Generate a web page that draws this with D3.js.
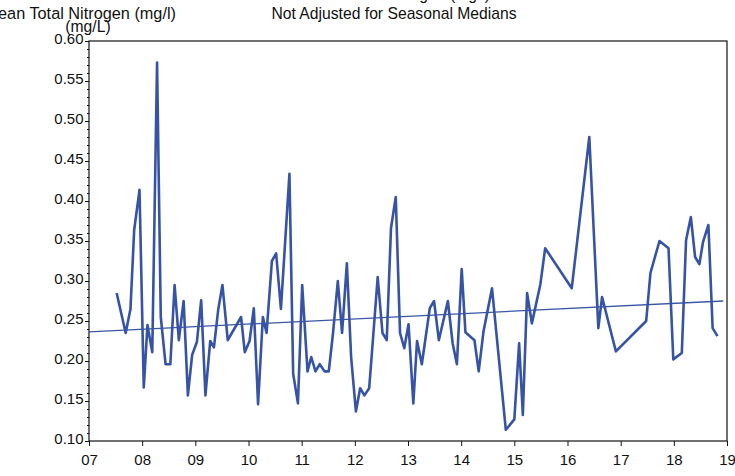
<!DOCTYPE html>
<html><head><meta charset="utf-8">
<script src="https://cdn.jsdelivr.net/npm/d3@7"></script>
<style>body{margin:0;background:#fff}svg text{font-family:"Liberation Sans",Arial,sans-serif}</style>
</head><body><svg id="c" width="735" height="476"></svg>
<script>
const years = [2007.52,2007.69,2007.78,2007.85,2007.95,2008.03,2008.10,2008.19,2008.28,2008.35,
2008.44,2008.53,2008.61,2008.69,2008.78,2008.86,2008.94,2009.03,2009.11,2009.19,
2009.28,2009.35,2009.43,2009.51,2009.61,2009.86,2009.93,2010.02,2010.10,2010.18,
2010.27,2010.34,2010.44,2010.52,2010.61,2010.77,2010.84,2010.93,2011.01,2011.11,
2011.18,2011.26,2011.34,2011.43,2011.51,2011.59,2011.68,2011.76,2011.85,2011.93,
2012.02,2012.10,2012.18,2012.27,2012.35,2012.43,2012.52,2012.60,2012.68,2012.77,
2012.85,2012.93,2013.01,2013.10,2013.17,2013.26,2013.41,2013.49,2013.58,2013.75,
2013.84,2013.92,2014.01,2014.08,2014.25,2014.33,2014.42,2014.58,2014.84,2015.00,
2015.09,2015.16,2015.24,2015.33,2015.49,2015.58,2016.08,2016.41,2016.58,2016.65,
2016.91,2017.48,2017.56,2017.73,2017.90,2017.99,2018.15,2018.23,2018.32,2018.40,
2018.48,2018.55,2018.65,2018.73,2018.82];
const values = [0.285,0.235,0.265,0.364,0.414,0.167,0.245,0.211,0.573,0.255,
0.196,0.196,0.295,0.226,0.275,0.157,0.2075,0.224,0.276,0.157,
0.225,0.217,0.264,0.295,0.226,0.255,0.211,0.225,0.266,0.146,
0.255,0.235,0.325,0.3345,0.265,0.434,0.184,0.147,0.295,0.187,
0.205,0.187,0.196,0.187,0.187,0.235,0.300,0.235,0.322,0.205,
0.137,0.166,0.157,0.166,0.235,0.305,0.235,0.226,0.366,0.405,
0.235,0.216,0.246,0.147,0.225,0.196,0.266,0.275,0.226,0.275,
0.222,0.196,0.315,0.236,0.226,0.187,0.237,0.291,0.114,0.127,
0.222,0.1325,0.285,0.247,0.296,0.341,0.291,0.480,0.241,0.280,
0.212,0.250,0.310,0.350,0.341,0.202,0.210,0.351,0.380,0.330,
0.321,0.349,0.370,0.241,0.231];
const trendYears = [2007.0, 2018.93];
const trendValues = [0.2365, 0.275];
const xTickYears = [2007,2008,2009,2010,2011,2012,2013,2014,2015,2016,2017,2018,2019];
const xTickLabels = ["07","08","09","10","11","12","13","14","15","16","17","18","19"];
const yTicks = [0.10,0.15,0.20,0.25,0.30,0.35,0.40,0.45,0.50,0.55,0.60];
const yMinorTicks = d3.range(10,61).map(d=>d/100);

const svg = d3.select("#c");
const x = d3.scaleLinear().domain([2007,2019]).range([89,727]);
const y = d3.scaleLinear().domain([0.10,0.60]).range([441,41]);
const FONT = '"Liberation Sans",Arial,sans-serif';

// titles
svg.append("text").attr("x",490).attr("y",0).attr("text-anchor","end").attr("font-size",15.7).attr("fill","#111").text("Mean Total Nitrogen (mg/l)");
svg.append("text").attr("x",394).attr("y",18.5).attr("text-anchor","middle").attr("font-size",15.7).attr("fill","#111").text("Not Adjusted for Seasonal Medians");
svg.append("text").attr("x",176).attr("y",18.5).attr("text-anchor","end").attr("font-size",16.3).attr("fill","#111").text("Mean Total Nitrogen (mg/l)");
svg.append("text").attr("x",88).attr("y",32).attr("text-anchor","middle").attr("font-size",15.7).attr("fill","#111").text("(mg/L)");

// y axis minor
const gyMinor = svg.append("g").attr("transform","translate(89,0)")
  .call(d3.axisLeft(y).tickValues(yMinorTicks).tickSize(2).tickFormat(""));
gyMinor.select(".domain").remove();
gyMinor.selectAll("line").attr("stroke","#111");
const gy = svg.append("g").attr("transform","translate(89,0)")
  .call(d3.axisLeft(y).tickValues(yTicks).tickSize(4).tickPadding(1.5).tickFormat(d3.format(".2f")));
gy.select(".domain").remove();
gy.selectAll("line").attr("stroke","#111");
gy.selectAll("text").attr("font-size",15).attr("fill","#111").attr("font-family",FONT).attr("dy","0.15em");

const gx = svg.append("g").attr("transform","translate(0,441)")
  .call(d3.axisBottom(x).tickValues(xTickYears).tickSize(5).tickPadding(8).tickFormat((d,i)=>xTickLabels[i]));
gx.select(".domain").remove();
gx.selectAll("line").attr("stroke","#111");
gx.selectAll("text").attr("font-size",15).attr("fill","#111").attr("font-family",FONT);

// frame
svg.append("rect").attr("x",x(2007)).attr("y",y(0.60)).attr("width",x(2019)-x(2007)).attr("height",y(0.10)-y(0.60))
  .attr("fill","none").attr("stroke","#111").attr("stroke-width",1.2);

// trend
svg.append("line").attr("x1",x(trendYears[0])).attr("y1",y(trendValues[0]))
  .attr("x2",x(trendYears[1])).attr("y2",y(trendValues[1]))
  .attr("stroke","#3A55A4").attr("stroke-width",1.3);

// data line
const pts = years.map((d,i)=>[d,values[i]]);
svg.append("path").datum(pts)
  .attr("d",d3.line().x(d=>x(d[0])).y(d=>y(d[1])))
  .attr("fill","none").attr("stroke","#3653A5").attr("stroke-width",2.6).attr("stroke-linejoin","round");
</script></body></html>
